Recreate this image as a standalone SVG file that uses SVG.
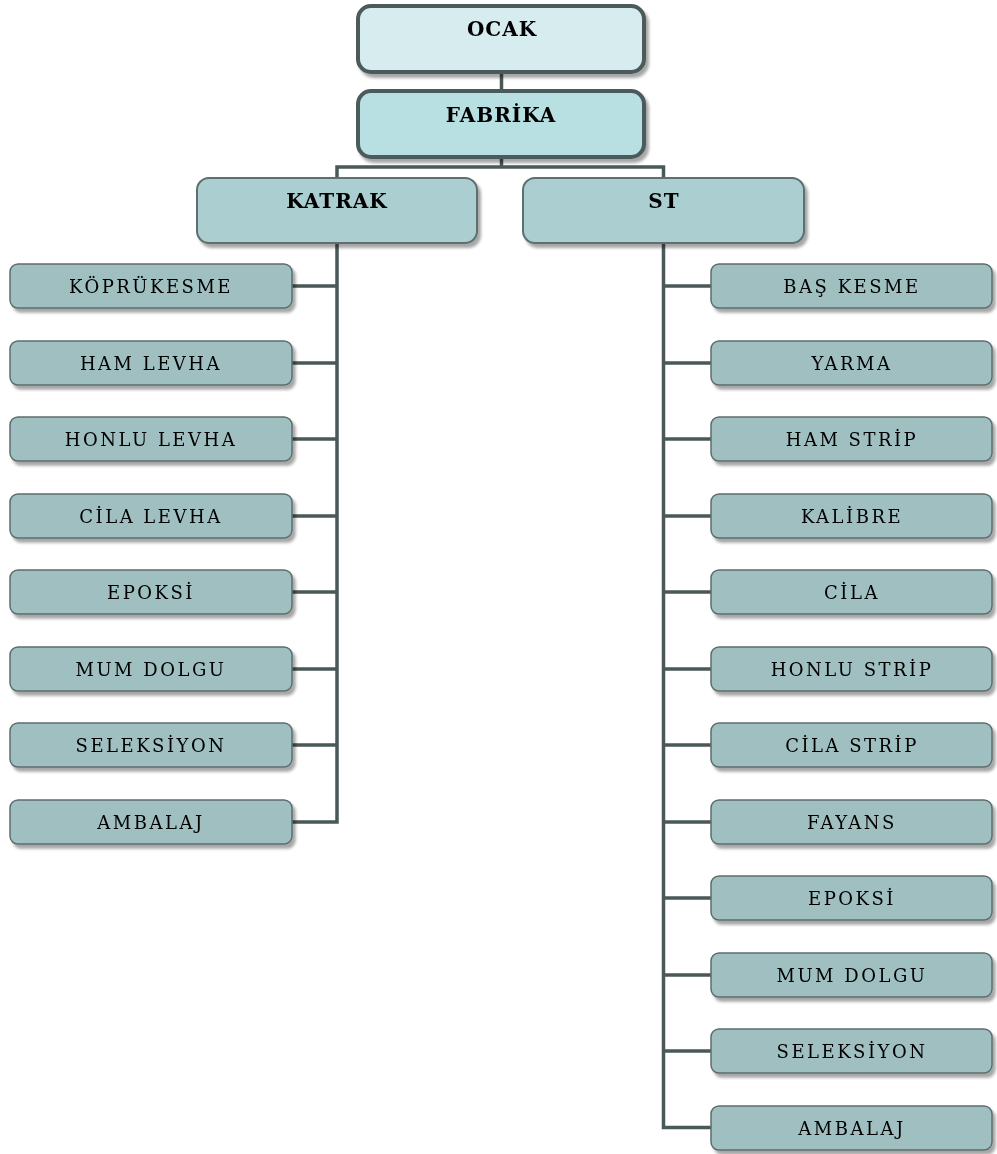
<svg xmlns="http://www.w3.org/2000/svg" width="997" height="1154" viewBox="0 0 997 1154">
  <defs>
    <filter id="shadow" x="-5%" y="-20%" width="115%" height="150%">
      <feGaussianBlur in="SourceAlpha" stdDeviation="1.5"/>
      <feOffset dx="3" dy="4" result="off"/>
      <feComponentTransfer><feFuncA type="linear" slope="0.35"/></feComponentTransfer>
      <feMerge><feMergeNode/><feMergeNode in="SourceGraphic"/></feMerge>
    </filter>
  </defs>
  <style>
    .top { stroke: #4b5a5a; stroke-width: 4; }
    .mid { fill: #abcfd1; stroke: #5e6e6e; stroke-width: 2; }
    .leaf { fill: #9fbfc0; stroke: #5d6d6d; stroke-width: 1.5; }
    .title { font-family: "DejaVu Serif", "Liberation Serif", serif; font-weight: bold; font-size: 20px; fill: #000; text-anchor: middle; letter-spacing: 1px; }
    .label { font-family: "DejaVu Serif", "Liberation Serif", serif; font-size: 18px; fill: #000; text-anchor: middle; letter-spacing: 2.5px; }
    .wire { fill: none; stroke: #4a5858; stroke-width: 3.5; }
  </style>
  <rect width="997" height="1154" fill="#ffffff"/>

  <!-- connectors -->
  <g id="connectors" class="wire">
    <path d="M501.5 72 V90"/>
    <path d="M501.5 157 V167 M337 178 V167 H663.5 V178"/>
    <path d="M337 243 V822 H292"/>
    <path d="M292 286 H337 M292 363 H337 M292 439 H337 M292 516 H337 M292 592 H337 M292 669 H337 M292 745 H337"/>
    <path d="M663.5 243 V1127.5 H711"/>
    <path d="M663.5 286 H711 M663.5 363 H711 M663.5 439 H711 M663.5 516 H711 M663.5 592 H711 M663.5 669 H711 M663.5 745 H711 M663.5 822 H711 M663.5 898 H711 M663.5 975 H711 M663.5 1051 H711"/>
  </g>

  <!-- top levels -->
  <g id="ocak" filter="url(#shadow)">
    <rect class="top" x="358" y="6" width="286" height="66" rx="13" fill="#d6ecee"/>
    <text class="title" x="502" y="36">OCAK</text>
  </g>
  <g id="fabrika" filter="url(#shadow)">
    <rect class="top" x="358" y="91" width="286" height="66" rx="13" fill="#b8dfe2"/>
    <text class="title" x="501" y="122">FABRİKA</text>
  </g>
  <g id="katrak" filter="url(#shadow)">
    <rect class="mid" x="197" y="178" width="280" height="65" rx="12"/>
    <text class="title" x="337" y="208">KATRAK</text>
  </g>
  <g id="st" filter="url(#shadow)">
    <rect class="mid" x="523" y="178" width="281" height="65" rx="12"/>
    <text class="title" x="664" y="208">ST</text>
  </g>

  <!-- KATRAK branch -->
  <g id="k-koprukesme" filter="url(#shadow)"><rect class="leaf" x="10" y="264" width="282" height="44" rx="8"/><text class="label" x="151" y="293">KÖPRÜKESME</text></g>
  <g id="k-ham-levha" filter="url(#shadow)"><rect class="leaf" x="10" y="341" width="282" height="44" rx="8"/><text class="label" x="151" y="370">HAM LEVHA</text></g>
  <g id="k-honlu-levha" filter="url(#shadow)"><rect class="leaf" x="10" y="417" width="282" height="44" rx="8"/><text class="label" x="151" y="446">HONLU LEVHA</text></g>
  <g id="k-cila-levha" filter="url(#shadow)"><rect class="leaf" x="10" y="494" width="282" height="44" rx="8"/><text class="label" x="151" y="523">CİLA LEVHA</text></g>
  <g id="k-epoksi" filter="url(#shadow)"><rect class="leaf" x="10" y="570" width="282" height="44" rx="8"/><text class="label" x="151" y="599">EPOKSİ</text></g>
  <g id="k-mum-dolgu" filter="url(#shadow)"><rect class="leaf" x="10" y="647" width="282" height="44" rx="8"/><text class="label" x="151" y="676">MUM DOLGU</text></g>
  <g id="k-seleksiyon" filter="url(#shadow)"><rect class="leaf" x="10" y="723" width="282" height="44" rx="8"/><text class="label" x="151" y="752">SELEKSİYON</text></g>
  <g id="k-ambalaj" filter="url(#shadow)"><rect class="leaf" x="10" y="800" width="282" height="44" rx="8"/><text class="label" x="151" y="829">AMBALAJ</text></g>

  <!-- ST branch -->
  <g id="s-bas-kesme" filter="url(#shadow)"><rect class="leaf" x="711" y="264" width="281" height="44" rx="8"/><text class="label" x="852" y="293">BAŞ KESME</text></g>
  <g id="s-yarma" filter="url(#shadow)"><rect class="leaf" x="711" y="341" width="281" height="44" rx="8"/><text class="label" x="852" y="370">YARMA</text></g>
  <g id="s-ham-strip" filter="url(#shadow)"><rect class="leaf" x="711" y="417" width="281" height="44" rx="8"/><text class="label" x="852" y="446">HAM STRİP</text></g>
  <g id="s-kalibre" filter="url(#shadow)"><rect class="leaf" x="711" y="494" width="281" height="44" rx="8"/><text class="label" x="852" y="523">KALİBRE</text></g>
  <g id="s-cila" filter="url(#shadow)"><rect class="leaf" x="711" y="570" width="281" height="44" rx="8"/><text class="label" x="852" y="599">CİLA</text></g>
  <g id="s-honlu-strip" filter="url(#shadow)"><rect class="leaf" x="711" y="647" width="281" height="44" rx="8"/><text class="label" x="852" y="676">HONLU STRİP</text></g>
  <g id="s-cila-strip" filter="url(#shadow)"><rect class="leaf" x="711" y="723" width="281" height="44" rx="8"/><text class="label" x="852" y="752">CİLA STRİP</text></g>
  <g id="s-fayans" filter="url(#shadow)"><rect class="leaf" x="711" y="800" width="281" height="44" rx="8"/><text class="label" x="852" y="829">FAYANS</text></g>
  <g id="s-epoksi" filter="url(#shadow)"><rect class="leaf" x="711" y="876" width="281" height="44" rx="8"/><text class="label" x="852" y="905">EPOKSİ</text></g>
  <g id="s-mum-dolgu" filter="url(#shadow)"><rect class="leaf" x="711" y="953" width="281" height="44" rx="8"/><text class="label" x="852" y="982">MUM DOLGU</text></g>
  <g id="s-seleksiyon" filter="url(#shadow)"><rect class="leaf" x="711" y="1029" width="281" height="44" rx="8"/><text class="label" x="852" y="1058">SELEKSİYON</text></g>
  <g id="s-ambalaj" filter="url(#shadow)"><rect class="leaf" x="711" y="1106" width="281" height="44" rx="8"/><text class="label" x="852" y="1135">AMBALAJ</text></g>
</svg>
